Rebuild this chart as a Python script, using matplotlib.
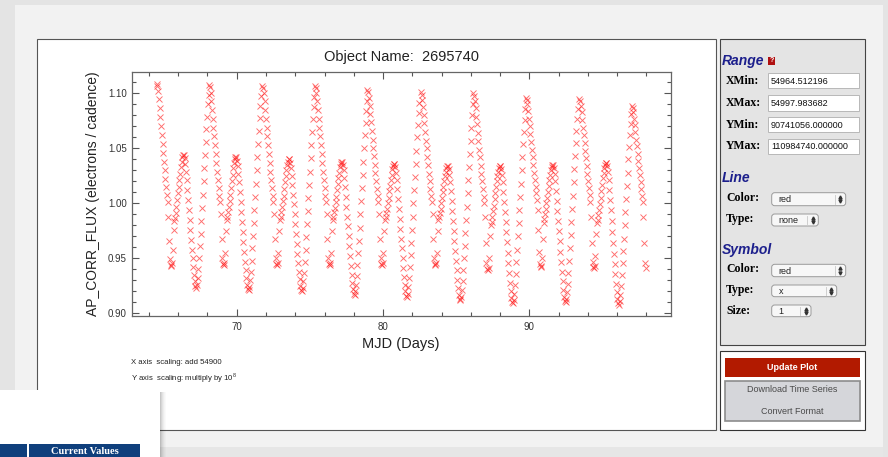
import numpy as np
import matplotlib
matplotlib.use("Agg")
import matplotlib.pyplot as plt
from matplotlib.patches import Rectangle, FancyBboxPatch
from matplotlib.ticker import MultipleLocator

plt.rcParams['font.family'] = ['Liberation Sans', 'DejaVu Sans']
plt.rcParams['mathtext.fontset'] = 'custom'
plt.rcParams['mathtext.rm'] = 'Liberation Sans'

# light curve: one list per cycle, starting at each big maximum
CADENCE = 0.05   # days between listed samples
peak_times = [64.53, 68.11, 71.75, 75.35, 78.93, 82.58, 86.17, 89.77, 93.42, 97.00]

cycle_0 = [1.109, 1.107, 1.102, 1.095, 1.087, 1.079, 1.070, 1.062, 1.054, 1.046, 1.038, 1.030, 1.022, 1.015, 1.008, 1.001,
           0.988, 0.966, 0.949, 0.944, 0.943, 0.946, 0.958, 0.976, 0.984, 0.987,
           0.991, 0.997, 1.003, 1.009, 1.015, 1.021, 1.027, 1.033, 1.038, 1.042, 1.044, 1.044, 1.041,
           1.036, 1.029, 1.021, 1.012, 1.003, 0.994, 0.985, 0.976, 0.967, 0.958, 0.950, 0.942, 0.935, 0.929, 0.925, 0.923, 0.926,
           0.932, 0.940, 0.950, 0.961, 0.972, 0.984, 0.996, 1.008, 1.020, 1.032, 1.044, 1.056, 1.068, 1.079, 1.090, 1.099]
cycle_1 = [1.108, 1.106, 1.100, 1.093, 1.085, 1.077, 1.069, 1.061, 1.053, 1.045, 1.037, 1.029, 1.021, 1.014, 1.007, 1.001,
           0.990, 0.968, 0.950, 0.945, 0.944, 0.946, 0.955, 0.975, 0.985, 0.988,
           0.992, 0.997, 1.002, 1.008, 1.014, 1.020, 1.026, 1.032, 1.037, 1.040, 1.042, 1.042, 1.039,
           1.034, 1.027, 1.019, 1.010, 1.001, 0.992, 0.983, 0.974, 0.965, 0.956, 0.947, 0.939, 0.932, 0.926, 0.922, 0.921, 0.924,
           0.930, 0.938, 0.948, 0.959, 0.970, 0.982, 0.994, 1.006, 1.018, 1.030, 1.042, 1.054, 1.066, 1.078, 1.089, 1.098]
cycle_2 = [1.107, 1.105, 1.100, 1.093, 1.085, 1.077, 1.069, 1.061, 1.053, 1.045, 1.037, 1.029, 1.021, 1.014, 1.007, 1.001,
           0.990, 0.968, 0.950, 0.945, 0.944, 0.946, 0.955, 0.975, 0.985, 0.988,
           0.992, 0.997, 1.002, 1.007, 1.013, 1.019, 1.025, 1.030, 1.035, 1.038, 1.040, 1.040, 1.037,
           1.032, 1.025, 1.017, 1.008, 0.999, 0.990, 0.981, 0.972, 0.963, 0.954, 0.946, 0.938, 0.931, 0.925, 0.921, 0.920, 0.923,
           0.929, 0.937, 0.947, 0.958, 0.969, 0.981, 0.993, 1.005, 1.017, 1.029, 1.041, 1.053, 1.065, 1.077, 1.088, 1.097]
cycle_3 = [1.107, 1.105, 1.100, 1.093, 1.085, 1.077, 1.069, 1.061, 1.053, 1.045, 1.037, 1.029, 1.021, 1.014, 1.007, 1.001,
           0.990, 0.968, 0.950, 0.945, 0.944, 0.946, 0.955, 0.975, 0.985, 0.988,
           0.992, 0.996, 1.001, 1.006, 1.012, 1.018, 1.023, 1.028, 1.033, 1.036, 1.038, 1.038, 1.035,
           1.030, 1.023, 1.015, 1.006, 0.997, 0.988, 0.979, 0.970, 0.961, 0.952, 0.943, 0.935, 0.928, 0.922, 0.918, 0.917, 0.920,
           0.926, 0.934, 0.944, 0.955, 0.966, 0.978, 0.990, 1.002, 1.014, 1.026, 1.038, 1.050, 1.062, 1.073, 1.084, 1.093]
cycle_4 = [1.103, 1.101, 1.096, 1.089, 1.081, 1.074, 1.066, 1.058, 1.050, 1.043, 1.035, 1.028, 1.020, 1.013, 1.007, 1.001,
           0.990, 0.968, 0.950, 0.945, 0.944, 0.946, 0.955, 0.975, 0.985, 0.988,
           0.991, 0.995, 1.000, 1.005, 1.011, 1.016, 1.021, 1.026, 1.031, 1.034, 1.036, 1.036, 1.033,
           1.028, 1.021, 1.013, 1.004, 0.995, 0.986, 0.977, 0.968, 0.959, 0.950, 0.941, 0.933, 0.926, 0.920, 0.916, 0.915, 0.918,
           0.924, 0.932, 0.942, 0.953, 0.964, 0.976, 0.988, 1.000, 1.012, 1.024, 1.036, 1.048, 1.060, 1.071, 1.082, 1.091]
cycle_5 = [1.101, 1.099, 1.094, 1.088, 1.080, 1.073, 1.065, 1.057, 1.050, 1.042, 1.035, 1.027, 1.020, 1.013, 1.007, 1.001,
           0.990, 0.968, 0.950, 0.945, 0.944, 0.946, 0.955, 0.975, 0.985, 0.988,
           0.991, 0.995, 1.000, 1.005, 1.010, 1.015, 1.020, 1.025, 1.029, 1.032, 1.034, 1.034, 1.031,
           1.026, 1.019, 1.011, 1.002, 0.993, 0.984, 0.975, 0.966, 0.957, 0.948, 0.939, 0.930, 0.923, 0.917, 0.913, 0.912, 0.915,
           0.921, 0.929, 0.939, 0.950, 0.961, 0.973, 0.985, 0.997, 1.009, 1.021, 1.033, 1.045, 1.057, 1.069, 1.080, 1.090]
cycle_6 = [1.100, 1.098, 1.093, 1.087, 1.079, 1.072, 1.064, 1.057, 1.049, 1.042, 1.034, 1.027, 1.020, 1.013, 1.006, 1.000,
           0.988, 0.964, 0.946, 0.940, 0.939, 0.941, 0.950, 0.970, 0.980, 0.983,
           0.988, 0.993, 0.998, 1.004, 1.009, 1.015, 1.020, 1.025, 1.029, 1.032, 1.034, 1.034, 1.031,
           1.026, 1.019, 1.010, 1.001, 0.992, 0.983, 0.974, 0.965, 0.955, 0.946, 0.937, 0.928, 0.920, 0.914, 0.910, 0.909, 0.912,
           0.918, 0.926, 0.936, 0.947, 0.958, 0.970, 0.982, 0.994, 1.006, 1.018, 1.030, 1.042, 1.054, 1.065, 1.076, 1.086]
cycle_7 = [1.096, 1.094, 1.090, 1.084, 1.077, 1.070, 1.063, 1.056, 1.049, 1.042, 1.035, 1.028, 1.021, 1.015, 1.009, 1.003,
           0.994, 0.976, 0.956, 0.945, 0.942, 0.943, 0.950, 0.968, 0.982, 0.986,
           0.990, 0.995, 1.000, 1.005, 1.010, 1.016, 1.021, 1.026, 1.030, 1.033, 1.035, 1.035, 1.032,
           1.027, 1.020, 1.011, 1.002, 0.993, 0.984, 0.975, 0.966, 0.956, 0.947, 0.938, 0.929, 0.921, 0.915, 0.911, 0.910, 0.913,
           0.919, 0.927, 0.937, 0.948, 0.959, 0.971, 0.983, 0.995, 1.007, 1.019, 1.031, 1.043, 1.055, 1.066, 1.077, 1.086]
cycle_8 = [1.095, 1.093, 1.089, 1.083, 1.076, 1.069, 1.062, 1.055, 1.048, 1.041, 1.034, 1.027, 1.020, 1.014, 1.008, 1.001,
           0.988, 0.964, 0.947, 0.942, 0.941, 0.943, 0.952, 0.972, 0.982, 0.985,
           0.989, 0.994, 0.999, 1.005, 1.011, 1.017, 1.023, 1.028, 1.032, 1.035, 1.037, 1.037, 1.034,
           1.029, 1.021, 1.012, 1.003, 0.994, 0.984, 0.974, 0.964, 0.954, 0.945, 0.936, 0.927, 0.919, 0.913, 0.909, 0.9075, 0.911,
           0.917, 0.925, 0.935, 0.946, 0.957, 0.968, 0.980, 0.992, 1.004, 1.016, 1.028, 1.040, 1.051, 1.062, 1.072, 1.081]
cycle_9 = [1.089, 1.087, 1.083, 1.077, 1.071, 1.065, 1.058, 1.052, 1.045, 1.039, 1.032, 1.026, 1.019, 1.013, 1.007, 1.001,
           0.988, 0.964, 0.946, 0.941]

cycles = [cycle_0, cycle_1, cycle_2, cycle_3, cycle_4,
          cycle_5, cycle_6, cycle_7, cycle_8, cycle_9]

x_range = (62.82, 99.66)
y_range = (0.898, 1.1198)

range_fields = [("XMin:", "54964.512196"), ("XMax:", "54997.983682"),
                ("YMin:", "90741056.000000"), ("YMax:", "110984740.000000")]

W, H = 888, 457
fig = plt.figure(figsize=(W / 100, H / 100), dpi=100)
fig.patch.set_facecolor('#e4e4e4')

# page / widget layer, in pixel coordinates
bg = fig.add_axes([0, 0, 1, 1], zorder=0)
bg.set_xlim(0, W)
bg.set_ylim(H, 0)
bg.axis('off')


def box(x0, y0, x1, y1, fc, ec='none', lw=0.0, z=1, alpha=1.0):
    bg.add_patch(Rectangle((x0, y0), x1 - x0, y1 - y0, facecolor=fc, edgecolor=ec,
                           linewidth=lw, zorder=z, alpha=alpha))


def select(x0, y0, x1, y1, label):
    bg.add_patch(FancyBboxPatch((x0, y0), x1 - x0, y1 - y0,
                                boxstyle='round,pad=0,rounding_size=3',
                                facecolor='#f7f7f7', edgecolor='#9a9a9a', linewidth=0.7, zorder=3))
    bg.plot([x1 - 11, x1 - 11], [y0 + 2, y1 - 2], color='#c8c8c8', lw=0.6, zorder=4)
    ym = (y0 + y1) / 2
    bg.plot([x1 - 5.5], [ym - 2.2], marker='^', ms=2.2, color='#333333', zorder=4)
    bg.plot([x1 - 5.5], [ym + 2.2], marker='v', ms=2.2, color='#333333', zorder=4)
    bg.text(x0 + 7, ym + 0.5, label, fontsize=6.5, color='#222222', ha='left', va='center', zorder=4)


box(15, 5, 883, H, '#f2f2f2', z=0.5)
box(15, 447, 883, H, '#e6e6e6', z=0.6)

# plot frame and side panels
box(37, 38.7, 716, 429.5, 'white', ec='#555555', lw=0.8)
box(720, 38.7, 865, 345, '#e4e4e4', ec='#444444', lw=0.8)
box(720, 350.7, 865, 429.5, 'white', ec='#333333', lw=0.8)

head_kw = dict(fontsize=10, fontweight='bold', fontstyle='italic', color='#1c1f8c',
               ha='left', va='center', zorder=3)
lab_kw = dict(fontsize=8.5, fontweight='bold', family='Liberation Serif', color='black',
              ha='left', va='center', zorder=3)

bg.text(722, 60.5, "Range", **head_kw)
box(767.5, 56.5, 775, 64.5, '#b01010', z=3)
bg.text(771.3, 60.7, "?", fontsize=5, color='white', fontweight='bold', ha='center', va='center', zorder=4)

field_y = [(72.7, 88.3), (95, 110.5), (117, 132), (138.5, 154)]
for (name, val), (y0, y1) in zip(range_fields, field_y):
    bg.text(726, (y0 + y1) / 2, name, **lab_kw)
    box(768, y0, 859, y1, 'white', ec='#b8b8b8', lw=0.7, z=3)
    bg.text(771, (y0 + y1) / 2 + 0.5, val, fontsize=6.5, color='#111111', ha='left', va='center', zorder=4)

bg.text(722, 178.3, "Line", **head_kw)
bg.text(726, 197.7, "Color:", **lab_kw)
select(771.7, 192.7, 845.7, 205.7, "red")
bg.text(726, 219, "Type:", **lab_kw)
select(771.7, 214, 818.3, 226, "none")

bg.text(722, 250, "Symbol", **head_kw)
bg.text(726, 269.3, "Color:", **lab_kw)
select(771.7, 264.3, 845.7, 276.7, "red")
bg.text(726, 290, "Type:", **lab_kw)
select(771.7, 285, 836.7, 296.7, "x")
bg.text(726, 310.5, "Size:", **lab_kw)
select(771.7, 305, 811, 316.7, "1")

# buttons
box(725, 358.3, 860, 376.7, '#b21a00', z=3)
bg.text(792.5, 367.5, "Update Plot", fontsize=6.5, fontweight='bold', color='white',
        ha='center', va='center', zorder=4)
box(725, 380.7, 860, 420.7, '#d5d6da', ec='#8c8c8c', lw=1.2, z=3)
bg.text(792.5, 389.5, "Download Time Series", fontsize=6.5, color='#4a4a4a', ha='center', va='center', zorder=4)
bg.text(792.5, 412, "Convert Format", fontsize=6.5, color='#4a4a4a', ha='center', va='center', zorder=4)

# axis scaling notes
note_kw = dict(fontsize=5.6, color='#222222', ha='left', va='center', zorder=3)
bg.text(131, 363, "X axis  scaling: add 54900", **note_kw)
bg.text(131, 378, r"Y axis  scaling: multiply by 10$^{8}$", **note_kw)

# popup box in the lower left corner, with its shadow
for i, a in enumerate([0.22, 0.16, 0.11, 0.07, 0.04, 0.02]):
    box(160 + i, 392, 161 + i, H, 'black', z=5, alpha=a)
box(0, 390, 160, H, 'white', z=6)
box(0, 444, 27, H, '#0f3f7c', z=7)
box(29, 444, 140, H, '#0f3f7c', z=7)
bg.text(84.5, 451.5, "Current Values", fontsize=7.5, fontweight='bold', family='Liberation Serif',
        color='white', ha='center', va='center', zorder=8)

# the light curve
ax = fig.add_axes([131.7 / W, 1 - 315.5 / H, (670.7 - 131.7) / W, (315.5 - 71.7) / H], zorder=2)

times, fluxes = [], []
for tp, fl in zip(peak_times, cycles):
    times.extend(tp + CADENCE * np.arange(len(fl)))
    fluxes.extend(fl)

ax.plot(times, fluxes, ls='none', marker='x', ms=4, mew=0.65, color='#ff1a1a', alpha=0.65)

ax.set_xlim(*x_range)
ax.set_ylim(*y_range)
ax.xaxis.set_major_locator(MultipleLocator(10))
ax.xaxis.set_minor_locator(MultipleLocator(2))
ax.yaxis.set_major_locator(MultipleLocator(0.05))
ax.yaxis.set_minor_locator(MultipleLocator(0.01))
ax.yaxis.set_major_formatter(matplotlib.ticker.FormatStrFormatter('%.2f'))
ax.tick_params(which='both', direction='in', top=True, right=True, colors='#555555',
               labelcolor='#333333', labelsize=7, width=0.8)
ax.tick_params(which='major', length=5)
ax.tick_params(which='minor', length=3)
ax.tick_params(axis='x', pad=5)
ax.tick_params(axis='y', pad=3.5)
for s in ax.spines.values():
    s.set_color('#666666')
    s.set_linewidth(0.9)

ax.set_title("Object Name:  2695740", fontsize=10.5, color='#222222', pad=8)
ax.set_xlabel("MJD (Days)", fontsize=10.5, color='#222222', labelpad=3)
ax.set_ylabel("AP_CORR_FLUX (electrons / cadence)", fontsize=10, color='#222222', labelpad=6)

fig.savefig("out.png", dpi=100, facecolor=fig.get_facecolor())
